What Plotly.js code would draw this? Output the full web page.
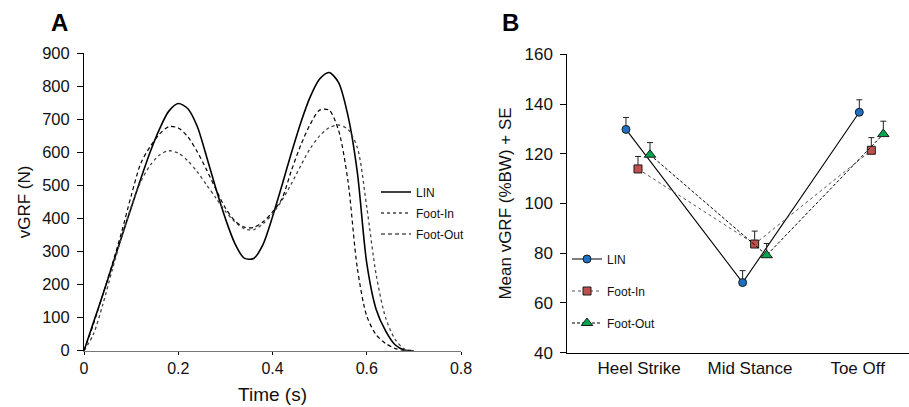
<!DOCTYPE html>
<html>
<head>
<meta charset="utf-8">
<script src="https://cdn.plot.ly/plotly-3.0.1.min.js"></script>
<style>
html,body{margin:0;padding:0;background:#fff;}
#chart{width:909px;height:407px;}
</style>
</head>
<body>
<div id="chart"></div>
<script>
// ---- Panel A: vGRF time series (N) ----
const time = [0,0.02,0.04,0.06,0.08,0.10,0.12,0.14,0.16,0.18,0.20,0.22,0.24,0.26,0.28,0.30,0.32,0.34,0.36,0.38,0.40,0.42,0.44,0.46,0.48,0.50,0.52,0.54,0.56,0.58,0.60,0.62,0.64,0.66,0.68,0.70];
const linA = [0,85,170,258,345,432,518,600,670,725,748,733,680,588,490,400,325,280,279,322,405,500,598,690,768,822,842,812,712,540,265,125,60,18,2,0];
const footInA = [0,50,140,245,345,435,510,560,592,605,598,575,542,502,462,422,390,369,366,384,414,455,505,560,612,650,675,683,670,615,435,230,100,35,5,0];
const footOutA = [0,80,170,262,360,468,565,617,655,678,674,648,603,548,488,432,393,374,373,390,420,460,545,622,685,728,728,668,515,250,105,48,22,7,0,0];

// ---- Panel B: mean vGRF (%BW) + SE ----
const phases = ['Heel Strike','Mid Stance','Toe Off'];
const linB = [129.8, 68.2, 136.7];
const linSE = [4.8, 4.8, 5.0];
const footInB = [113.9, 83.7, 121.4];
const footInSE = [5.0, 5.2, 5.1];
const footOutB = [119.6, 79.2, 127.9];
const footOutSE = [4.9, 4.7, 5.2];
const seriesNames = ['LIN','Foot-In','Foot-Out'];

const FONT = 'Liberation Sans, Arial, Helvetica, sans-serif';
const W = 909, H = 407;
const px = v => v / W;
const py = v => (H - v) / H;

const idx = phases.map((_, i) => i);
const shift = d => idx.map(i => i + d);
const zeros = phases.map(() => 0);

const traces = [
  {x: time, y: linA, name: seriesNames[0], type: 'scatter', mode: 'lines', line: {color: '#000', width: 1.6, shape: 'spline', smoothing: 0.8}, xaxis: 'x', yaxis: 'y', legend: 'legend', legendgroup: 'a1'},
  {x: time, y: footInA, name: seriesNames[1], type: 'scatter', mode: 'lines', line: {color: '#444', width: 1.3, dash: 'dot', shape: 'spline', smoothing: 0.8}, xaxis: 'x', yaxis: 'y', legend: 'legend', legendgroup: 'a2'},
  {x: time, y: footOutA, name: seriesNames[2], type: 'scatter', mode: 'lines', line: {color: '#000', width: 1.2, dash: '4px,3px', shape: 'spline', smoothing: 0.8}, xaxis: 'x', yaxis: 'y', legend: 'legend', legendgroup: 'a3'},

  {x: shift(-0.103), y: linB, name: seriesNames[0], type: 'scatter', mode: 'lines+markers',
   line: {color: '#000', width: 1.1},
   marker: {symbol: 'circle', size: 8, color: '#1f70c1', line: {color: '#1a1a1a', width: 1}},
   error_y: {type: 'data', symmetric: false, array: linSE, arrayminus: zeros, color: '#222', thickness: 1, width: 3},
   xaxis: 'x2', yaxis: 'y2', legend: 'legend2', legendgroup: 'b1'},
  {x: shift(0), y: footInB, name: seriesNames[1], type: 'scatter', mode: 'lines+markers',
   line: {color: '#555', width: 1, dash: 'dot'},
   marker: {symbol: 'square', size: 8, color: '#c0504d', line: {color: '#1a1a1a', width: 1}},
   error_y: {type: 'data', symmetric: false, array: footInSE, arrayminus: zeros, color: '#222', thickness: 1, width: 3},
   xaxis: 'x2', yaxis: 'y2', legend: 'legend2', legendgroup: 'b2'},
  {x: shift(0.103), y: footOutB, name: seriesNames[2], type: 'scatter', mode: 'lines+markers',
   line: {color: '#000', width: 1, dash: '3px,2px'},
   marker: {symbol: 'triangle-up', size: 10, color: '#00a550', line: {color: '#1a1a1a', width: 1}},
   error_y: {type: 'data', symmetric: false, array: footOutSE, arrayminus: zeros, color: '#222', thickness: 1, width: 3},
   xaxis: 'x2', yaxis: 'y2', legend: 'legend2', legendgroup: 'b3'}
];

const layout = {
  width: W, height: H,
  margin: {l: 0, r: 0, t: 0, b: 0},
  paper_bgcolor: '#fff', plot_bgcolor: 'rgba(0,0,0,0)',
  font: {family: FONT, color: '#111'},
  showlegend: true,
  xaxis: {
    anchor: 'y',
    domain: [px(84), px(461)], range: [0, 0.8],
    tickvals: [0, 0.2, 0.4, 0.6, 0.8], ticktext: ['0', '0.2', '0.4', '0.6', '0.8'],
    ticks: 'outside', ticklen: 3, tickcolor: '#000', tickwidth: 1,
    showline: true, linecolor: '#777', linewidth: 1.5,
    showgrid: false, zeroline: false, automargin: false,
    tickfont: {size: 16, family: FONT, color: '#111'},
    title: {text: 'Time (s)', font: {size: 19, family: FONT, color: '#111'}, standoff: 11}
  },
  yaxis: {
    anchor: 'x',
    domain: [py(350.7), py(53.3)], range: [0, 900], dtick: 100,
    ticks: 'outside', ticklen: 6, tickcolor: '#000', tickwidth: 1,
    showline: true, linecolor: '#000', linewidth: 1,
    showgrid: false, zeroline: false, automargin: false,
    ticklabelstandoff: 4,
    tickfont: {size: 16.5, family: FONT, color: '#111'},
    title: {text: 'vGRF (N)', font: {size: 17, family: FONT, color: '#111'}, standoff: 7}
  },
  xaxis2: {
    anchor: 'y2',
    domain: [px(567.3), 1], range: [-0.606, 2.323],
    tickvals: [0.01, 0.96, 1.883], ticktext: phases,
    ticks: '', showline: true, linecolor: '#000', linewidth: 1,
    showgrid: false, zeroline: false, automargin: false,
    tickfont: {size: 17, family: FONT, color: '#111'}
  },
  yaxis2: {
    anchor: 'x2',
    domain: [py(352.7), py(54.3)], range: [40, 160], dtick: 20,
    ticks: 'outside', ticklen: 6, tickcolor: '#000', tickwidth: 1,
    showline: true, linecolor: '#000', linewidth: 1,
    showgrid: false, zeroline: false, automargin: false,
    ticklabelstandoff: 4,
    tickfont: {size: 17, family: FONT, color: '#111'},
    title: {text: 'Mean vGRF (%BW) + SE', font: {size: 17, family: FONT, color: '#111'}, standoff: 8}
  },
  legend: {
    x: px(376), y: py(177.5), xanchor: 'left', yanchor: 'top',
    bgcolor: 'rgba(0,0,0,0)', borderwidth: 0,
    font: {size: 12, family: FONT, color: '#111'},
    tracegroupgap: 2, itemclick: false
  },
  legend2: {
    x: px(567), y: py(244.5), xanchor: 'left', yanchor: 'top',
    bgcolor: 'rgba(0,0,0,0)', borderwidth: 0,
    font: {size: 12, family: FONT, color: '#111'},
    tracegroupgap: 13, itemclick: false
  },
  annotations: [
    {text: '<b>A</b>', x: px(59), y: py(23), xref: 'paper', yref: 'paper', showarrow: false, xanchor: 'center', yanchor: 'middle', font: {size: 24, family: FONT, color: '#000'}},
    {text: '<b>B</b>', x: px(510), y: py(22), xref: 'paper', yref: 'paper', showarrow: false, xanchor: 'center', yanchor: 'middle', font: {size: 24, family: FONT, color: '#000'}}
  ]
};

Plotly.newPlot('chart', traces, layout, {displayModeBar: false, staticPlot: true});
</script>
</body>
</html>
